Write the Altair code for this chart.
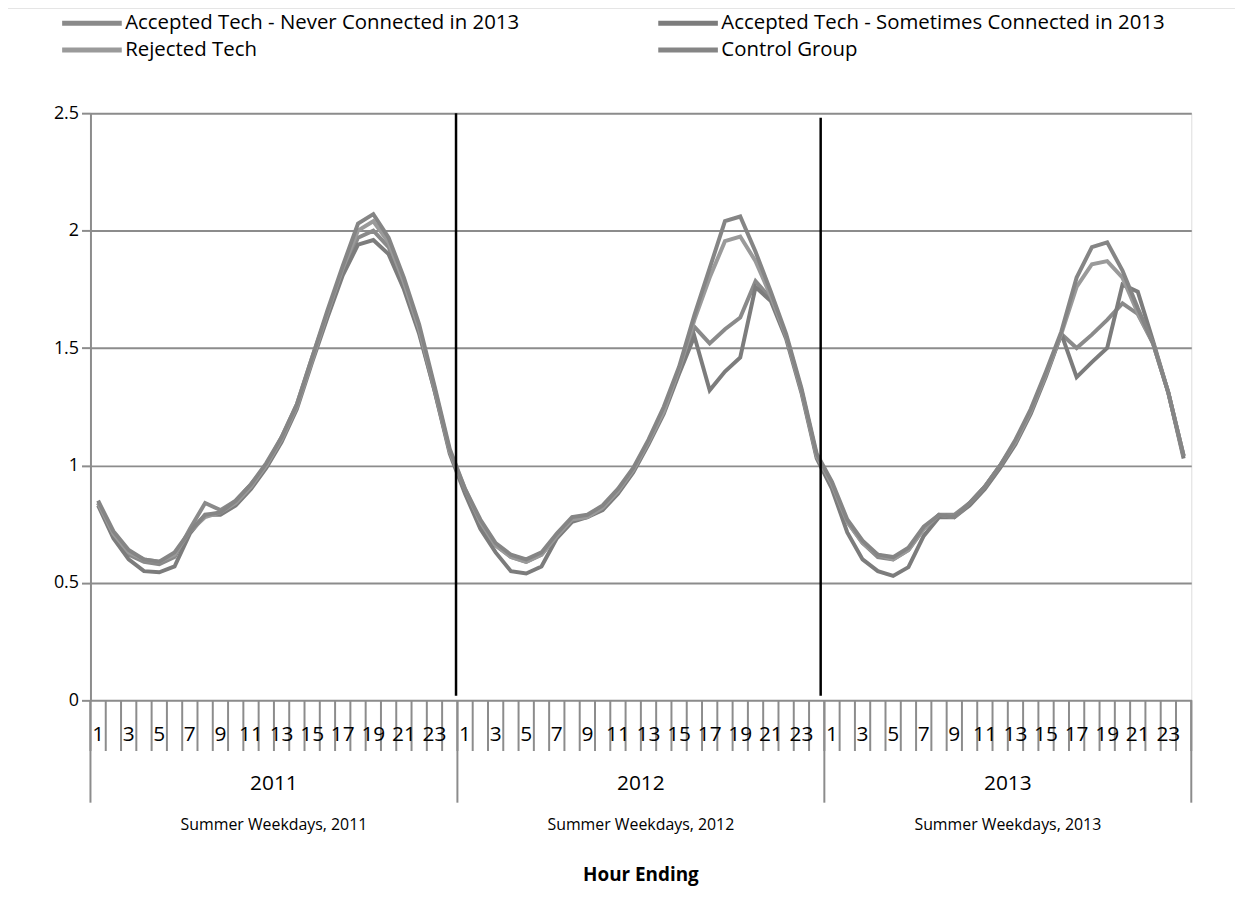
import altair as alt
import pandas as pd

years = ["2011", "2012", "2013"]
hours = list(range(1, 25))
series_names = [
    "Accepted Tech - Never Connected in 2013",
    "Accepted Tech - Sometimes Connected in 2013",
    "Rejected Tech",
    "Control Group",
]
# legend fills column by column: put entries in the order that gives
# row 1 = Never / Sometimes, row 2 = Rejected / Control
legend_order = [series_names[0], series_names[2], series_names[1], series_names[3]]
legend_colors = ["#8a8a8a", "#9a9a9a", "#7c7c7c", "#858585"]

# values per year, hours 1..24
never_2011 = [0.84, 0.71, 0.62, 0.59, 0.58, 0.61, 0.73, 0.84, 0.81, 0.85, 0.92, 1.00,
              1.12, 1.26, 1.46, 1.65, 1.83, 1.97, 2.00, 1.93, 1.77, 1.57, 1.32, 1.06]
never_2012 = [0.89, 0.75, 0.66, 0.61, 0.59, 0.62, 0.70, 0.77, 0.78, 0.82, 0.89, 0.98,
              1.10, 1.23, 1.40, 1.59, 1.52, 1.58, 1.63, 1.785, 1.71, 1.55, 1.32, 1.04]
never_2013 = [0.92, 0.76, 0.67, 0.61, 0.60, 0.64, 0.73, 0.79, 0.79, 0.84, 0.91, 1.00,
              1.10, 1.23, 1.39, 1.56, 1.50, 1.557, 1.62, 1.69, 1.645, 1.52, 1.31, 1.04]

sometimes_2011 = [0.83, 0.69, 0.60, 0.55, 0.545, 0.57, 0.71, 0.79, 0.79, 0.83, 0.90, 0.99,
                  1.10, 1.24, 1.44, 1.63, 1.81, 1.94, 1.96, 1.90, 1.75, 1.56, 1.32, 1.05]
sometimes_2012 = [0.88, 0.73, 0.63, 0.55, 0.54, 0.57, 0.69, 0.76, 0.78, 0.81, 0.88, 0.97,
                  1.09, 1.22, 1.39, 1.55, 1.32, 1.40, 1.46, 1.76, 1.70, 1.54, 1.31, 1.03]
sometimes_2013 = [0.90, 0.715, 0.60, 0.55, 0.53, 0.567, 0.70, 0.78, 0.78, 0.83, 0.90, 0.99,
                  1.09, 1.22, 1.38, 1.56, 1.376, 1.44, 1.50, 1.77, 1.74, 1.53, 1.31, 1.03]

rejected_2011 = [0.84, 0.71, 0.63, 0.60, 0.59, 0.62, 0.72, 0.78, 0.80, 0.84, 0.91, 1.00,
                 1.11, 1.25, 1.45, 1.65, 1.84, 2.00, 2.04, 1.95, 1.78, 1.58, 1.33, 1.06]
rejected_2012 = [0.90, 0.76, 0.66, 0.61, 0.59, 0.62, 0.70, 0.77, 0.78, 0.82, 0.89, 0.98,
                 1.10, 1.23, 1.41, 1.62, 1.80, 1.955, 1.975, 1.87, 1.72, 1.55, 1.32, 1.04]
rejected_2013 = [0.92, 0.76, 0.67, 0.62, 0.60, 0.64, 0.73, 0.79, 0.78, 0.84, 0.91, 1.00,
                 1.10, 1.23, 1.39, 1.56, 1.76, 1.857, 1.87, 1.80, 1.65, 1.52, 1.31, 1.04]

control_2011 = [0.85, 0.72, 0.64, 0.60, 0.59, 0.63, 0.72, 0.79, 0.80, 0.85, 0.92, 1.01,
                1.12, 1.26, 1.46, 1.66, 1.85, 2.03, 2.07, 1.97, 1.80, 1.60, 1.34, 1.07]
control_2012 = [0.90, 0.77, 0.67, 0.62, 0.60, 0.63, 0.71, 0.78, 0.79, 0.83, 0.90, 0.99,
                1.11, 1.25, 1.42, 1.64, 1.84, 2.04, 2.06, 1.91, 1.74, 1.56, 1.33, 1.05]
control_2013 = [0.93, 0.77, 0.68, 0.62, 0.61, 0.65, 0.74, 0.79, 0.78, 0.84, 0.91, 1.00,
                1.11, 1.24, 1.40, 1.57, 1.80, 1.93, 1.95, 1.83, 1.67, 1.52, 1.31, 1.04]

y_ticks = [0, 0.5, 1, 1.5, 2, 2.5]
hour_tick_labels = [1, 3, 5, 7, 9, 11, 13, 15, 17, 19, 21, 23]
group_labels = ["Summer Weekdays, 2011", "Summer Weekdays, 2012", "Summer Weekdays, 2013"]
axis_title = "Hour Ending"
separator_x = [23.91, 47.76]
separator_top = [2.5, 2.48]
separator_bottom = [0.02, 0.02]

series_data = {
    series_names[0]: [never_2011, never_2012, never_2013],
    series_names[1]: [sometimes_2011, sometimes_2012, sometimes_2013],
    series_names[2]: [rejected_2011, rejected_2012, rejected_2013],
    series_names[3]: [control_2011, control_2012, control_2013],
}

rows = []
for name, per_year in series_data.items():
    for yi, vals in enumerate(per_year):
        for h, v in zip(hours, vals):
            rows.append({"series": name, "pos": yi * 24 + h - 0.5, "value": v})
df = pd.DataFrame(rows)

hour_df = pd.DataFrame([
    {"pos": yi * 24 + h - 0.5, "label": str(h)}
    for yi in range(len(years)) for h in hour_tick_labels
])
minor_df = pd.DataFrame({"pos": list(range(0, 24 * len(years) + 1))})
major_df = pd.DataFrame({"pos": [i * 24 for i in range(len(years) + 1)]})
year_df = pd.DataFrame({"pos": [i * 24 + 12 for i in range(len(years))], "label": years})
group_df = pd.DataFrame({"pos": [i * 24 + 12 for i in range(len(years))], "label": group_labels})
title_df = pd.DataFrame({"pos": [12 * len(years)], "label": [axis_title]})
sep_df = pd.DataFrame({"pos": separator_x, "top": separator_top, "bottom": separator_bottom})

FONT = "Open Sans"
GRAY = "#8c8c8c"

xscale = alt.Scale(domain=[0, 72], nice=False, zero=False)
yscale = alt.Scale(domain=[0, 2.5], nice=False)

lines = alt.Chart(df).mark_line(strokeWidth=4).encode(
    x=alt.X("pos:Q", scale=xscale, axis=None),
    y=alt.Y("value:Q", scale=yscale, title=None,
            axis=alt.Axis(values=y_ticks, labelExpr="toString(datum.value)",
                          grid=True, gridColor=GRAY, gridWidth=2,
                          domainColor=GRAY, domainWidth=2,
                          tickColor=GRAY, tickWidth=2, tickSize=9,
                          labelFont=FONT, labelFontSize=18, labelColor="#000",
                          labelPadding=3)),
    color=alt.Color("series:N",
                    scale=alt.Scale(domain=legend_order, range=legend_colors),
                    legend=alt.Legend(title=None, orient="none", legendX=-11, legendY=-103,
                                      columns=2, columnPadding=129, rowPadding=4,
                                      symbolType="M-3,0H3", symbolSize=400,
                                      symbolStrokeWidth=5, labelFont=FONT,
                                      labelFontSize=20.5, labelColor="#000",
                                      labelOffset=21, labelLimit=1000)),
    detail="series:N",
)

seps = alt.Chart(sep_df).mark_rule(color="#000", strokeWidth=2.5).encode(
    x=alt.X("pos:Q", scale=xscale), y=alt.Y("top:Q", scale=yscale), y2="bottom:Q"
)

minor_ticks = alt.Chart(minor_df).mark_rule(color=GRAY, strokeWidth=2).encode(
    x=alt.X("pos:Q", scale=xscale), y=alt.value(591), y2=alt.value(642)
)
major_ticks = alt.Chart(major_df).mark_rule(color=GRAY, strokeWidth=2).encode(
    x=alt.X("pos:Q", scale=xscale), y=alt.value(591), y2=alt.value(694)
)
hour_text = alt.Chart(hour_df).mark_text(font=FONT, fontSize=21, color="#000",
                                         baseline="middle").encode(
    x=alt.X("pos:Q", scale=xscale), y=alt.value(626), text="label:N"
)
year_text = alt.Chart(year_df).mark_text(font=FONT, fontSize=21, color="#000",
                                         baseline="middle").encode(
    x=alt.X("pos:Q", scale=xscale), y=alt.value(675), text="label:N"
)
group_text = alt.Chart(group_df).mark_text(font=FONT, fontSize=16, color="#000",
                                           baseline="middle").encode(
    x=alt.X("pos:Q", scale=xscale), y=alt.value(717), text="label:N"
)
title_text = alt.Chart(title_df).mark_text(
    font=FONT, fontSize=19, fontWeight="bold", color="#000", baseline="middle").encode(
    x=alt.X("pos:Q", scale=xscale), y=alt.value(767), text="label:N"
)
frame = alt.Chart(pd.DataFrame({"a": [0]})).mark_rect(
    fill=None, stroke="#b5b5b5", strokeWidth=1).encode(
    x=alt.value(-88), x2=alt.value(1170), y=alt.value(-106), y2=alt.value(820)
)

chart = alt.layer(frame, lines, seps, minor_ticks, major_ticks, hour_text,
                  year_text, group_text, title_text).properties(
    width=1108, height=591,
    padding={"left": 83, "top": 103, "right": 44, "bottom": 184},
    autosize=alt.AutoSizeParams(type="none"),
).configure_view(stroke=None).configure(background="#ffffff")

chart.save("out.html", embed_options={"renderer": "svg", "actions": False})
